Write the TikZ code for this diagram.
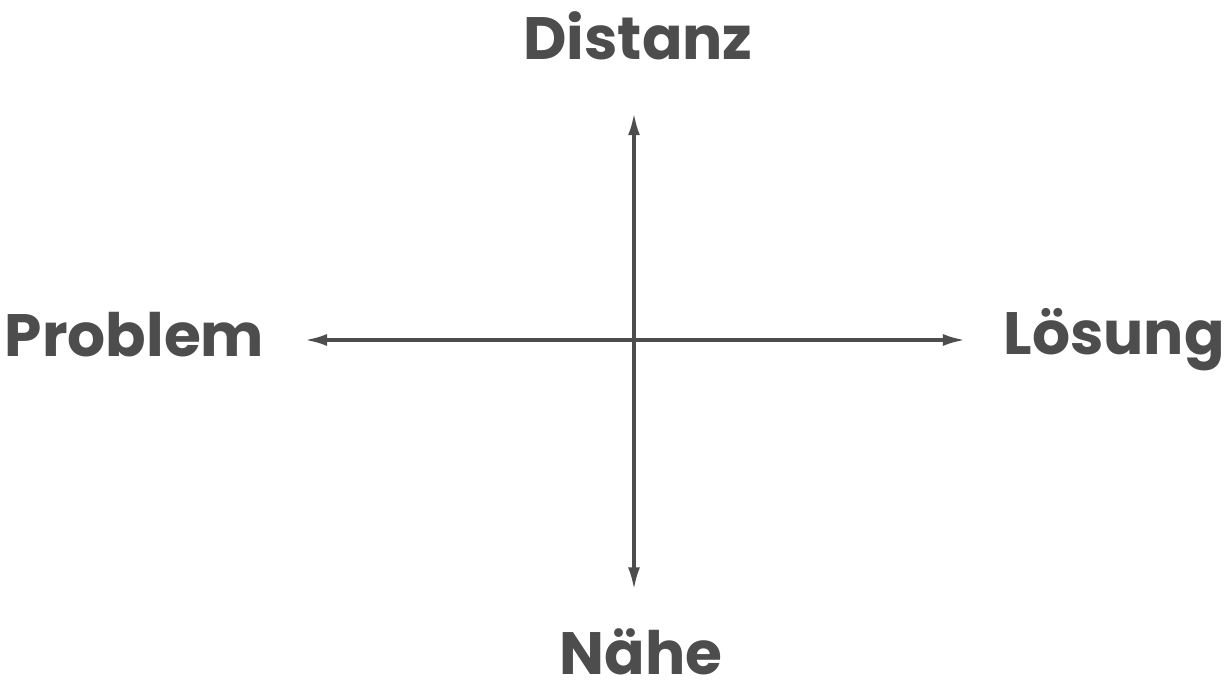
\documentclass[tikz,border=0pt]{standalone}
\usepackage{fontspec}
\setmainfont{Poppins}
\usetikzlibrary{arrows.meta}
\definecolor{ink}{HTML}{4d4d4d}

\begin{document}
\begin{tikzpicture}[x=0.01cm, y=-0.01cm,
  pole/.style={inner sep=0pt, text=ink, font=\fontsize{17pt}{20pt}\selectfont\bfseries},
  axis/.style={{Latex[length=2.2mm, width=1.2mm]}-{Latex[length=2.2mm, width=1.2mm]}, line width=0.9pt, ink}
]
  \useasboundingbox (0,0) rectangle (1229,688);

  \coordinate (o) at (634,340);

  \node[pole, anchor=base east] (problem) at (265,357) {Problem};
  \node[pole, anchor=base west] (loesung) at (1003,355) {Lösung};
  \node[pole, anchor=base] (distanz) at (638,60) {Distanz};
  \node[pole, anchor=base] (naehe) at (641,675) {Nähe};

  \draw[axis, shorten <=0.4cm, shorten >=0.38cm] (problem.east |- o) -- (loesung.west |- o);
  \draw[axis, shorten <=0.52cm, shorten >=0.39cm] (distanz.south -| o) -- (naehe.north -| o);
\end{tikzpicture}
\end{document}
